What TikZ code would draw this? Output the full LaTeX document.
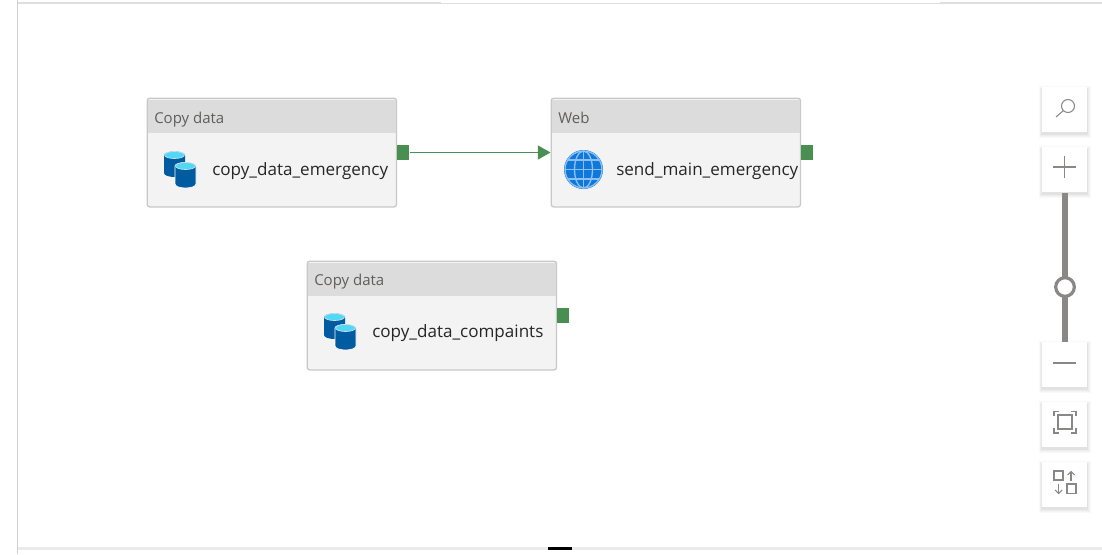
\documentclass[tikz,border=0pt]{standalone}
\usepackage{fontspec}
\setmainfont{Open Sans}
\usetikzlibrary{arrows.meta, calc, positioning, shadows}
\definecolor{boxline}{HTML}{C8C8C8}
\definecolor{boxfill}{HTML}{F3F3F3}
\definecolor{headfill}{HTML}{DCDCDC}
\definecolor{headtext}{HTML}{605E5C}
\definecolor{portgreen}{HTML}{4A8F52}
\definecolor{dbblue}{HTML}{005BA1}
\definecolor{dbtop}{HTML}{50D8F5}
\definecolor{globeblue}{HTML}{0F78D8}
\definecolor{globeline}{HTML}{8CC0F5}
\definecolor{toolgray}{HTML}{8A8886}
\tikzset{
  activitybox/.style={draw=boxline, fill=boxfill, line width=1pt, rounded corners=2pt,
    minimum width=187pt, minimum height=81.6pt, inner sep=0pt, anchor=north west},
  headband/.style={fill=headfill, minimum width=186.5pt, minimum height=24.75pt,
    inner sep=0pt, anchor=north west},
  headlabel/.style={text=headtext, inner sep=0pt, anchor=base west, font=\fontsize{11.25}{13}\selectfont},
  namelabel/.style={text=black!85, inner sep=0pt, anchor=base west, font=\fontsize{12.8}{15}\selectfont},
  outport/.style={fill=portgreen, minimum width=9pt, minimum height=11.25pt, inner sep=0pt, anchor=west},
  softedge/.style={general shadow={fill=black, opacity=0.025, shadow xshift=0pt, shadow yshift=-1.5pt, shadow scale=#1}},
  toolbtn/.style={fill=white, minimum width=33.75pt, minimum height=33.75pt, inner sep=0pt,
    anchor=north west, softedge=1.16, softedge=1.12, softedge=1.08, softedge=1.04, softedge=1.01},
  toolicon/.style={draw=toolgray, line width=0.8pt},
}
\begin{document}
\begin{tikzpicture}[x=0.75pt, y=-0.75pt]
\useasboundingbox (0,0) rectangle (1102,554);

% Frame
\fill[black!13] (18,2) rectangle (441,4);
\fill[black!13] (441,3) rectangle (940,4);
\fill[black!13] (940,2) rectangle (1102,4);
\fill[black!8] (18,547) rectangle (1102,550);
\fill[black] (548,547) rectangle (572,550);
\fill[black!18] (17,0) rectangle (18,554);

% First copy
\node[activitybox] (copyemergency) at (146.5,97.5) {};
\node[headband] (heademergency) at (147.5,100) {};
\node[headlabel] (typeemergency) at (154,123) {Copy data};
\node[namelabel] (nameemergency) at (212,175) {copy\_data\_emergency};
\node[outport] (portemergency) at (397,152.5) {};
\fill[dbblue] (164,155) arc[start angle=180, end angle=360, x radius=10.5, y radius=3.5]
  -- (185,173) arc[start angle=0, end angle=180, x radius=10.5, y radius=4] -- cycle;
\fill[dbtop, draw=white!80!dbblue, line width=0.5pt] (174.5,155) ellipse (10 and 3.5);
\fill[dbblue, draw=white, line width=0.5pt] (175,166) arc[start angle=180, end angle=360, x radius=10.5, y radius=3.5]
  -- (196,184) arc[start angle=0, end angle=180, x radius=10.5, y radius=4] -- cycle;
\fill[dbtop, draw=white!80!dbblue, line width=0.5pt] (185.5,166) ellipse (10 and 3.5);

% Web
\node[activitybox] (webmain) at (550.5,97.5) {};
\node[headband] (headmain) at (551.5,100) {};
\node[headlabel] (typemain) at (558,123) {Web};
\node[namelabel] (namemain) at (616,175) {send\_main\_emergency};
\node[outport] (portmain) at (801,152.5) {};
\fill[globeblue] (583.5,169.5) circle (19.5);
\draw[globeline, line width=1pt] (583.5,169.5) circle (18.5);
\draw[globeline, line width=1pt] (583.5,169.5) ellipse (9 and 18.5);
\draw[globeline, line width=1pt] (583.5,151) -- (583.5,188);
\draw[globeline, line width=1pt] (565,169.5) -- (602,169.5);
\draw[globeline, line width=1pt] (568,160) -- (599,160);
\draw[globeline, line width=1pt] (568,179) -- (599,179);

% Second copy
\node[activitybox] (copycomplaints) at (306.5,260.5) {};
\node[headband] (headcomplaints) at (307.5,263) {};
\node[headlabel] (typecomplaints) at (314,285.5) {Copy data};
\node[namelabel] (namecomplaints) at (372,337) {copy\_data\_compaints};
\node[outport] (portcomplaints) at (557,315) {};
\fill[dbblue] (324,317) arc[start angle=180, end angle=360, x radius=10.5, y radius=3.5]
  -- (345,335) arc[start angle=0, end angle=180, x radius=10.5, y radius=4] -- cycle;
\fill[dbtop, draw=white!80!dbblue, line width=0.5pt] (334.5,317) ellipse (10 and 3.5);
\fill[dbblue, draw=white, line width=0.5pt] (335,328) arc[start angle=180, end angle=360, x radius=10.5, y radius=3.5]
  -- (356,346) arc[start angle=0, end angle=180, x radius=10.5, y radius=4] -- cycle;
\fill[dbtop, draw=white!80!dbblue, line width=0.5pt] (345.5,328) ellipse (10 and 3.5);

% Link
\draw[-{Triangle[length=9.5pt, width=10.5pt]}, portgreen, line width=0.9pt] (portemergency.east) -- (webmain.west |- portemergency.east);

% Toolbar
\foreach \ytop/\btnname in {87/btnsearch, 147/btnplus, 342/btnminus, 402/btnfit, 462/btnswap}
  \node[toolbtn] (\btnname) at (1042,\ytop) {};
\draw[toolgray, line width=4.5pt] (btnplus.south) -- (btnminus.north);
\node[circle, draw=toolgray, fill=white, line width=2.4pt, minimum size=14pt, inner sep=0pt] (knob) at (1065,287) {};

% Search
\draw[toolicon] (1068,106) circle (6.5);
\draw[toolicon] (1063.5,110.5) -- (1056,117);
% Plus
\draw[toolicon] (1053,167) -- (1076,167);
\draw[toolicon] (1064.5,156) -- (1064.5,178);
% Minus
\draw[toolicon] (1053,363) -- (1076,363);
% Fit
\draw[toolicon, line width=1.1pt] (1058,415) rectangle (1072,429);
\draw[toolicon] (1054,416) -- (1054,411.5) -- (1059,411.5);
\draw[toolicon] (1071,411.5) -- (1076,411.5) -- (1076,416);
\draw[toolicon] (1054,428) -- (1054,433) -- (1059,433);
\draw[toolicon] (1071,433) -- (1076,433) -- (1076,428);
% Swap
\draw[toolicon] (1054,471) rectangle (1063,480);
\draw[toolicon] (1067,484) rectangle (1076,493.5);
\draw[toolicon] (1071,481) -- (1071,471.5);
\draw[toolicon] (1067.5,475) -- (1071,471.5) -- (1074.5,475);
\draw[toolicon] (1058.5,484) -- (1058.5,493.5);
\draw[toolicon] (1055,490) -- (1058.5,493.5) -- (1062,490);
\end{tikzpicture}
\end{document}
